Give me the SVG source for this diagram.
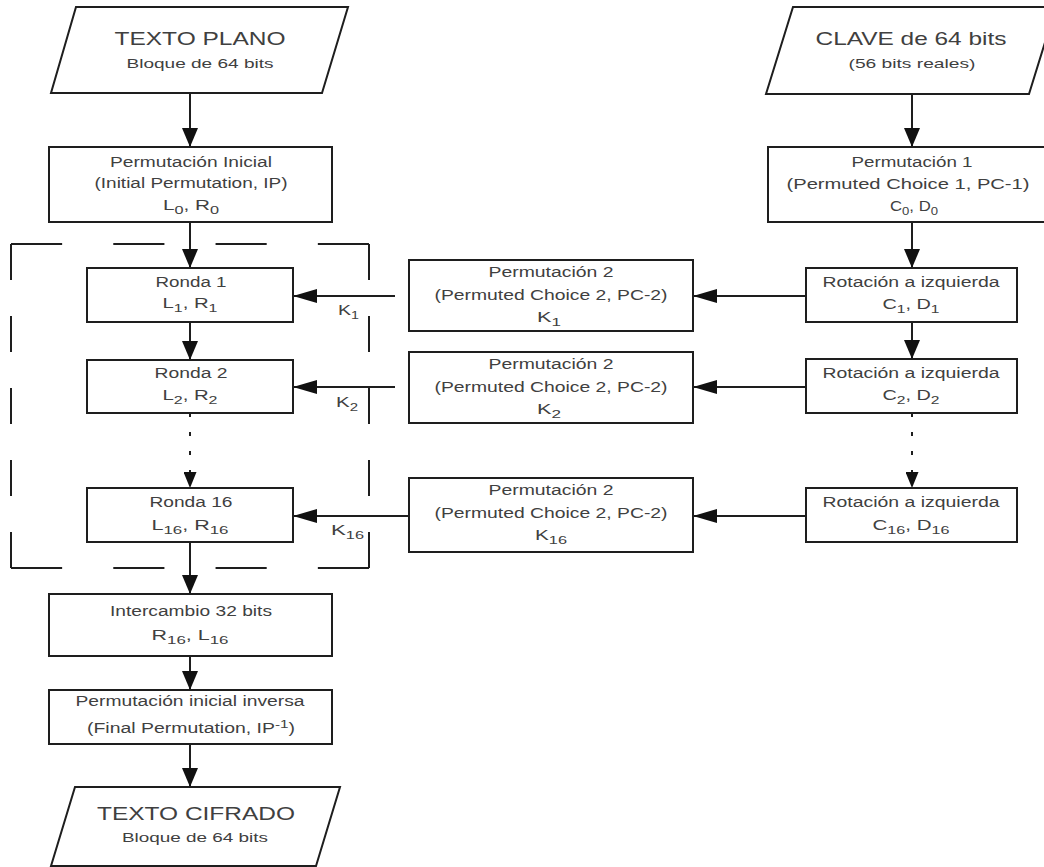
<svg xmlns="http://www.w3.org/2000/svg" width="1044" height="867" viewBox="0 0 1044 867">
<defs>
<style>
.box{fill:#fff;stroke:#1e1e1e;stroke-width:2}
.ln{fill:none;stroke:#1e1e1e;stroke-width:2}
.dot{fill:none;stroke:#1e1e1e;stroke-width:2;stroke-dasharray:4 15}
.frame{fill:none;stroke:#1e1e1e;stroke-width:2}
.fh{stroke-dasharray:51.14 51.14}
.fv{stroke-dasharray:36 36}
text{font-family:"Liberation Sans",Arial,sans-serif;fill:#404040;text-anchor:middle}
.t{font-size:14px}
.big{font-size:19px}
.sm{font-size:13px}
.lbl{text-anchor:start;font-size:15px}
.sub{font-size:11px}
</style>
<marker id="av" viewBox="0 0 19 16" refX="19" refY="8" markerWidth="19" markerHeight="16" markerUnits="userSpaceOnUse" orient="auto">
<path d="M0,0 L19,8 L0,16 z" fill="#111"/>
</marker>
<marker id="ah" viewBox="0 0 24 14" refX="24" refY="7" markerWidth="24" markerHeight="14" markerUnits="userSpaceOnUse" orient="auto">
<path d="M0,0 L24,7 L0,14 z" fill="#111"/>
</marker>
<marker id="ad" viewBox="0 0 16 13" refX="16" refY="6.5" markerWidth="16" markerHeight="13" markerUnits="userSpaceOnUse" orient="auto">
<path d="M0,0 L16,6.5 L0,13 z" fill="#111"/>
</marker>
</defs>
<rect x="0" y="0" width="1044" height="867" fill="#fff"/>

<g id="frame-rounds">
<line class="frame fh" x1="11" y1="244" x2="369" y2="244"/>
<line class="frame fh" x1="11" y1="568" x2="369" y2="568"/>
<line class="frame fv" x1="11" y1="244" x2="11" y2="568"/>
<line class="frame fv" x1="369" y1="244" x2="369" y2="568"/>
</g>

<g id="connectors">
<line class="ln" x1="190" y1="93" x2="190" y2="147" marker-end="url(#av)"/>
<line class="ln" x1="190" y1="222" x2="190" y2="268" marker-end="url(#av)"/>
<line class="ln" x1="190" y1="322" x2="190" y2="360" marker-end="url(#av)"/>
<line class="dot" x1="190" y1="413" x2="190" y2="488" marker-end="url(#ad)"/>
<line class="ln" x1="190" y1="542" x2="190" y2="594" marker-end="url(#av)"/>
<line class="ln" x1="190" y1="656" x2="190" y2="690" marker-end="url(#av)"/>
<line class="ln" x1="190" y1="744" x2="190" y2="787" marker-end="url(#av)"/>
<line class="ln" x1="912" y1="94" x2="912" y2="147" marker-end="url(#av)"/>
<line class="ln" x1="912" y1="222" x2="912" y2="268" marker-end="url(#av)"/>
<line class="ln" x1="912" y1="322" x2="912" y2="359" marker-end="url(#av)"/>
<line class="dot" x1="912" y1="413" x2="912" y2="488" marker-end="url(#ad)"/>
<line class="ln" x1="806" y1="296" x2="693" y2="296" marker-end="url(#ah)"/>
<line class="ln" x1="806" y1="387" x2="693" y2="387" marker-end="url(#ah)"/>
<line class="ln" x1="806" y1="516" x2="693" y2="516" marker-end="url(#ah)"/>
<line class="ln" x1="395" y1="296" x2="293" y2="296" marker-end="url(#ah)"/>
<line class="ln" x1="395" y1="387" x2="293" y2="387" marker-end="url(#ah)"/>
<line class="ln" x1="409" y1="516" x2="293" y2="516" marker-end="url(#ah)"/>
<text class="lbl" x="338" y="315" textLength="21" lengthAdjust="spacingAndGlyphs">K<tspan class="sub" dy="4">1</tspan></text>
<text class="lbl" x="336" y="407" textLength="22" lengthAdjust="spacingAndGlyphs">K<tspan class="sub" dy="4">2</tspan></text>
<text class="lbl" x="331" y="535" textLength="33" lengthAdjust="spacingAndGlyphs">K<tspan class="sub" dy="4">16</tspan></text>
</g>

<g id="texto-plano">
<polygon class="box" points="76,7 348,7 322,93 51,93"/>
<text class="big" x="200" y="45" textLength="171" lengthAdjust="spacingAndGlyphs">TEXTO PLANO</text>
<text class="sm" x="200" y="68" textLength="147" lengthAdjust="spacingAndGlyphs">Bloque de 64 bits</text>
</g>

<g id="perm-inicial">
<rect class="box" x="49" y="147" width="283" height="75"/>
<text class="t" x="191" y="167" textLength="162" lengthAdjust="spacingAndGlyphs">Permutación Inicial</text>
<text class="t" x="191" y="188" textLength="193" lengthAdjust="spacingAndGlyphs">(Initial Permutation, IP)</text>
<text class="t" x="191" y="210" textLength="56" lengthAdjust="spacingAndGlyphs">L<tspan class="sub" dy="4">0</tspan><tspan dy="-4">, R</tspan><tspan class="sub" dy="4">0</tspan></text>
</g>

<g id="clave">
<polygon class="box" points="793,7 1056,7 1029,94 766,94"/>
<text class="big" x="911" y="45" textLength="191" lengthAdjust="spacingAndGlyphs">CLAVE de 64 bits</text>
<text class="sm" x="912" y="68" textLength="127" lengthAdjust="spacingAndGlyphs">(56 bits reales)</text>
</g>

<g id="pc1">
<rect class="box" x="768" y="147" width="290" height="75"/>
<text class="t" x="912" y="167" textLength="121" lengthAdjust="spacingAndGlyphs">Permutación 1</text>
<text class="t" x="908" y="189" textLength="243" lengthAdjust="spacingAndGlyphs">(Permuted Choice 1, PC-1)</text>
<text class="t" x="914" y="211" textLength="48" lengthAdjust="spacingAndGlyphs">C<tspan class="sub" dy="4">0</tspan><tspan dy="-4">, D</tspan><tspan class="sub" dy="4">0</tspan></text>
</g>

<g id="ronda1">
<rect class="box" x="87" y="268" width="206" height="54"/>
<text class="t" x="191" y="287" textLength="71" lengthAdjust="spacingAndGlyphs">Ronda 1</text>
<text class="t" x="190" y="308" textLength="55" lengthAdjust="spacingAndGlyphs">L<tspan class="sub" dy="4">1</tspan><tspan dy="-4">, R</tspan><tspan class="sub" dy="4">1</tspan></text>
</g>

<g id="ronda2">
<rect class="box" x="87" y="360" width="206" height="53"/>
<text class="t" x="191" y="378" textLength="73" lengthAdjust="spacingAndGlyphs">Ronda 2</text>
<text class="t" x="190" y="400" textLength="55" lengthAdjust="spacingAndGlyphs">L<tspan class="sub" dy="4">2</tspan><tspan dy="-4">, R</tspan><tspan class="sub" dy="4">2</tspan></text>
</g>

<g id="ronda16">
<rect class="box" x="87" y="488" width="206" height="54"/>
<text class="t" x="191" y="507" textLength="83" lengthAdjust="spacingAndGlyphs">Ronda 16</text>
<text class="t" x="190" y="530" textLength="77" lengthAdjust="spacingAndGlyphs">L<tspan class="sub" dy="4">16</tspan><tspan dy="-4">, R</tspan><tspan class="sub" dy="4">16</tspan></text>
</g>

<g id="pc2-1">
<rect class="box" x="409" y="260" width="284" height="71"/>
<text class="t" x="551" y="277" textLength="125" lengthAdjust="spacingAndGlyphs">Permutación 2</text>
<text class="t" x="551" y="300" textLength="233" lengthAdjust="spacingAndGlyphs">(Permuted Choice 2, PC-2)</text>
<text class="t" x="549" y="322" textLength="24" lengthAdjust="spacingAndGlyphs">K<tspan class="sub" dy="4">1</tspan></text>
</g>

<g id="pc2-2">
<rect class="box" x="409" y="352" width="284" height="71"/>
<text class="t" x="551" y="369" textLength="125" lengthAdjust="spacingAndGlyphs">Permutación 2</text>
<text class="t" x="551" y="392" textLength="233" lengthAdjust="spacingAndGlyphs">(Permuted Choice 2, PC-2)</text>
<text class="t" x="549" y="414" textLength="24" lengthAdjust="spacingAndGlyphs">K<tspan class="sub" dy="4">2</tspan></text>
</g>

<g id="pc2-16">
<rect class="box" x="409" y="478" width="284" height="74"/>
<text class="t" x="551" y="495" textLength="125" lengthAdjust="spacingAndGlyphs">Permutación 2</text>
<text class="t" x="551" y="518" textLength="233" lengthAdjust="spacingAndGlyphs">(Permuted Choice 2, PC-2)</text>
<text class="t" x="551" y="540" textLength="32" lengthAdjust="spacingAndGlyphs">K<tspan class="sub" dy="4">16</tspan></text>
</g>

<g id="rot1">
<rect class="box" x="806" y="268" width="211" height="54"/>
<text class="t" x="911" y="287" textLength="177" lengthAdjust="spacingAndGlyphs">Rotación a izquierda</text>
<text class="t" x="911" y="309" textLength="57" lengthAdjust="spacingAndGlyphs">C<tspan class="sub" dy="4">1</tspan><tspan dy="-4">, D</tspan><tspan class="sub" dy="4">1</tspan></text>
</g>

<g id="rot2">
<rect class="box" x="806" y="359" width="211" height="54"/>
<text class="t" x="911" y="378" textLength="177" lengthAdjust="spacingAndGlyphs">Rotación a izquierda</text>
<text class="t" x="911" y="400" textLength="57" lengthAdjust="spacingAndGlyphs">C<tspan class="sub" dy="4">2</tspan><tspan dy="-4">, D</tspan><tspan class="sub" dy="4">2</tspan></text>
</g>

<g id="rot16">
<rect class="box" x="806" y="488" width="211" height="54"/>
<text class="t" x="911" y="507" textLength="177" lengthAdjust="spacingAndGlyphs">Rotación a izquierda</text>
<text class="t" x="911" y="530" textLength="77" lengthAdjust="spacingAndGlyphs">C<tspan class="sub" dy="4">16</tspan><tspan dy="-4">, D</tspan><tspan class="sub" dy="4">16</tspan></text>
</g>

<g id="intercambio">
<rect class="box" x="49" y="594" width="283" height="62"/>
<text class="t" x="191" y="616" textLength="162" lengthAdjust="spacingAndGlyphs">Intercambio 32 bits</text>
<text class="t" x="190" y="640" textLength="77" lengthAdjust="spacingAndGlyphs">R<tspan class="sub" dy="4">16</tspan><tspan dy="-4">, L</tspan><tspan class="sub" dy="4">16</tspan></text>
</g>

<g id="perm-inversa">
<rect class="box" x="49" y="690" width="283" height="54"/>
<text class="t" x="190" y="706" textLength="229" lengthAdjust="spacingAndGlyphs">Permutación inicial inversa</text>
<text class="t" x="191" y="733" textLength="208" lengthAdjust="spacingAndGlyphs">(Final Permutation, IP<tspan class="sub" dy="-5">-1</tspan><tspan dy="5">)</tspan></text>
</g>

<g id="texto-cifrado">
<polygon class="box" points="75,787 340,787 316,866 51,866"/>
<text class="big" x="196" y="820" textLength="198" lengthAdjust="spacingAndGlyphs">TEXTO CIFRADO</text>
<text class="sm" x="195" y="842" textLength="146" lengthAdjust="spacingAndGlyphs">Bloque de 64 bits</text>
</g>
</svg>
